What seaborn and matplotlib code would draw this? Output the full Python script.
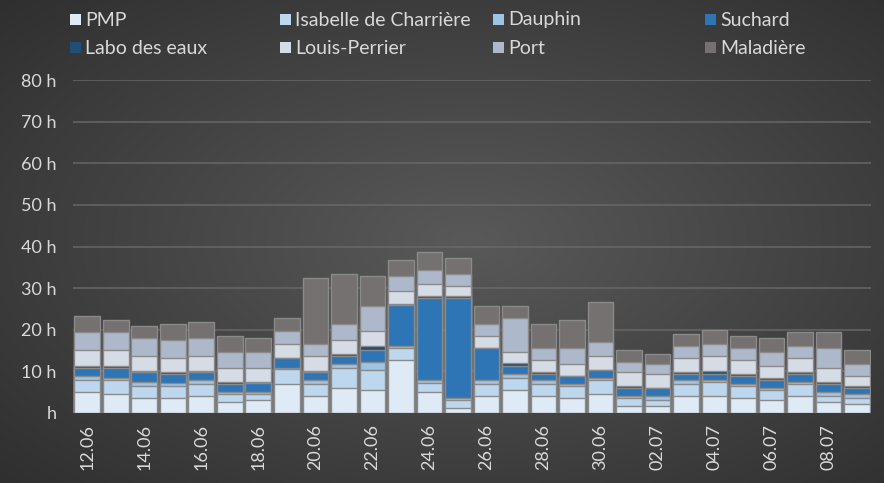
import numpy as np
import pandas as pd
import matplotlib
matplotlib.use("Agg")
import matplotlib.pyplot as plt
from matplotlib.patches import Rectangle
import seaborn as sns

# ── data (hours per day and site) ─────────────────────────────────────────────
DATES = [f"{d:02d}.06" for d in range(12, 31)] + [f"{d:02d}.07" for d in range(1, 10)]
SITES = ["PMP", "Isabelle de Charrière", "Dauphin", "Suchard",
         "Labo des eaux", "Louis-Perrier", "Port", "Maladière"]

PMP       = [5.1, 4.6, 3.6, 3.6, 4.1, 2.7, 3.1, 7.0, 4.1, 6.0, 5.6, 12.7, 5.1, 1.2,
             4.1, 5.6, 4.1, 3.6, 4.6, 1.7, 1.7, 4.1, 4.1, 3.6, 3.1, 4.1, 2.7, 2.2]
ISABELLE  = [2.9, 3.4, 2.9, 3.0, 2.8, 1.9, 1.5, 3.6, 2.9, 4.8, 4.7, 2.9, 2.2, 1.9,
             2.9, 2.8, 2.9, 2.9, 3.4, 1.9, 1.4, 2.9, 3.4, 2.9, 2.5, 2.9, 1.4, 1.4]
DAUPHIN   = [0.9, 0.4, 0.9, 0.5, 1.0, 0.5, 0.5, 0.3, 0.9, 1.0, 1.9, 0.4, 0.6, 0.5,
             0.9, 0.9, 0.9, 0.5, 0.4, 0.5, 1.0, 0.9, 0.4, 0.5, 0.4, 0.5, 1.0, 1.0]
SUCHARD   = [1.9, 2.5, 2.4, 2.2, 1.9, 1.9, 2.2, 2.3, 1.9, 1.8, 3.0, 9.9, 19.8, 24.1,
             7.7, 2.1, 1.5, 1.9, 1.9, 1.9, 1.9, 1.5, 1.5, 1.9, 1.9, 1.9, 1.9, 1.4]
LABO      = [0.6, 0.5, 0.2, 0.5, 0.4, 0.4, 0.1, 0.0, 0.4, 0.5, 0.8, 0.3, 0.4, 0.4,
             0.0, 0.5, 0.4, 0.0, 0.0, 0.5, 0.0, 0.4, 0.8, 0.5, 0.5, 0.5, 0.5, 0.5]
LOUIS     = [3.7, 3.7, 3.6, 3.3, 3.4, 3.3, 3.3, 3.3, 3.4, 3.4, 3.8, 3.2, 2.9, 2.4,
             2.9, 2.7, 2.9, 2.9, 3.4, 3.3, 3.4, 3.3, 3.4, 3.3, 2.9, 3.2, 3.2, 2.4]
PORT      = [4.3, 4.4, 4.5, 4.4, 4.5, 3.9, 3.9, 3.3, 2.9, 3.8, 5.8, 3.5, 3.4, 2.9,
             2.9, 8.2, 2.9, 3.8, 3.3, 2.4, 2.4, 2.9, 2.9, 2.9, 3.3, 2.9, 4.9, 2.9]
MALADIERE = [3.9, 2.9, 2.9, 3.9, 3.8, 3.9, 3.4, 3.0, 15.9, 12.1, 7.3, 3.8, 4.3, 3.9,
             4.3, 2.9, 5.8, 6.7, 9.7, 2.9, 2.3, 3.0, 3.4, 2.9, 3.4, 3.4, 3.8, 3.3]

# ── style ─────────────────────────────────────────────────────────────────────
COLORS = ["#deebf7", "#bdd7ee", "#9dc3e6", "#2e75b6",
          "#1f4e79", "#d6dce5", "#adb9ca", "#767171"]
TEXT_C = "#d9d9d9"
FONT = ["Lato", "DejaVu Sans"]

sns.set_theme(style="dark")
plt.rcParams["font.family"] = FONT

df = pd.DataFrame(dict(zip(SITES, [PMP, ISABELLE, DAUPHIN, SUCHARD,
                                   LABO, LOUIS, PORT, MALADIERE])))
df.insert(0, "date", DATES)
cum = df[SITES].cumsum(axis=1)
cum["date"] = DATES

fig = plt.figure(figsize=(8.84, 4.83), dpi=100)

# radial dark background
bg = fig.add_axes([0, 0, 1, 1], zorder=-10)
yy, xx = np.mgrid[0:1:200j, 0:1:360j]
r = np.sqrt(((xx - 0.53) / 0.75) ** 2 + ((yy - 0.5) / 0.75) ** 2)
shade = np.clip(0.35 - 0.17 * r, 0.15, 0.4)
bg.imshow(np.dstack([shade] * 3), aspect="auto", extent=(0, 1, 0, 1))
bg.axis("off")

ax = fig.add_axes([0.0826, 0.145, 0.903, 0.689])
ax.set_facecolor("none")

# stacked bars: draw cumulative totals from top layer down
for site, color in reversed(list(zip(SITES, COLORS))):
    sns.barplot(data=cum, x="date", y=site, color=color, saturation=1,
                width=0.9, errorbar=None, ax=ax,
                edgecolor="#8a8a8a", linewidth=1.0, zorder=3)

ax.set_xlim(-0.5, len(DATES) - 0.5)
ax.set_ylim(0, 80)
ax.set_yticks(np.arange(0, 81, 10))
ax.set_yticklabels([f"{v} h" if v else "h" for v in range(0, 81, 10)])
ax.set_xticks(range(0, len(DATES), 2))
ax.set_xticklabels(DATES[::2], rotation=90)
ax.tick_params(axis="both", length=0, colors=TEXT_C, labelsize=13)
ax.tick_params(axis="y", pad=12)
ax.tick_params(axis="x", pad=8)
ax.set_xlabel("")
ax.set_ylabel("")
ax.grid(True, axis="y", color="#6a6a6a", linewidth=1.5, alpha=0.7, zorder=0)
ax.grid(False, axis="x")
for s in ax.spines.values():
    s.set_visible(False)

# legend: 2 rows x 4 columns, placed manually
col_x = [70, 280, 493, 705]
row_y = [20, 48]
W, H = 884, 483
for i, (site, color) in enumerate(zip(SITES, COLORS)):
    x0 = col_x[i % 4]
    y0 = row_y[i // 4]
    fig.patches.append(Rectangle((x0 / W, (H - y0 - 5) / H), 11 / W, 11 / H,
                                 transform=fig.transFigure, facecolor=color,
                                 edgecolor="none"))
    fig.text((x0 + 15) / W, (H - y0) / H, site, color=TEXT_C, fontsize=14,
             va="center", ha="left", family=FONT)

fig.savefig("out.png", dpi=100)
